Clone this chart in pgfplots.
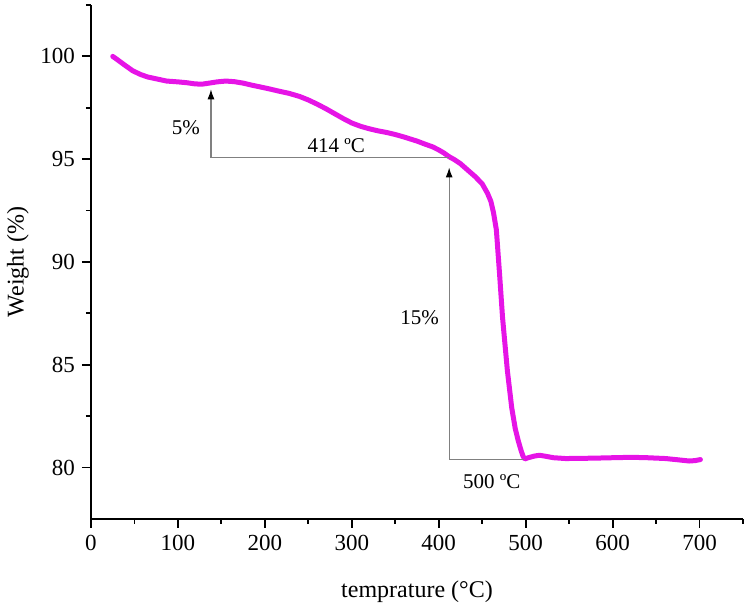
\documentclass[border=0pt]{standalone}
\usepackage{fontspec}
\setmainfont{Liberation Serif}
\usepackage{pgfplots}
\pgfplotsset{compat=1.18}
\usetikzlibrary{arrows.meta}
\definecolor{curve}{RGB}{230,20,230}
\definecolor{ann}{RGB}{128,128,128}
\begin{document}
\begin{tikzpicture}
\begin{axis}[
  scale only axis,
  width=326pt, height=257pt,
  xmin=0, xmax=750, ymin=77.5, ymax=102.5,
  axis x line=bottom, axis y line=left,
  axis line style={-, line width=0.9pt, black},
  xtick={0,100,...,700}, minor xtick={50,150,...,750},
  ytick={80,85,...,100}, minor ytick={82.5,87.5,92.5,97.5,102.5},
  tick align=outside,
  major tick length=4.5pt, minor tick length=2.5pt,
  every tick/.style={black, line width=0.9pt},
  tick label style={font=\fontsize{11.5}{13}\selectfont},
  /pgf/number format/assume math mode=true,
  xlabel={temprature (°C)}, ylabel={Weight (\%)},
  label style={font=\fontsize{12}{14}\selectfont},
  xlabel style={at={(axis description cs:0.5,-0.142)}, anchor=center},
  ylabel style={at={(axis description cs:-0.112,0.5)}, anchor=center},
  clip=false,
]
\addplot[curve, line width=2.5pt, line join=round, line cap=round] coordinates {
(25,100.0) (30,99.85) (38,99.6) (48,99.3) (57,99.12) (65,99.0) (76,98.9) (87,98.8)
(100,98.76) (110,98.72) (120,98.66) (128,98.65) (136,98.7) (145,98.76) (155,98.8)
(165,98.77) (175,98.7) (185,98.6) (194,98.52) (205,98.42) (215,98.32) (228,98.2)
(240,98.05) (250,97.88) (260,97.68) (270,97.46) (280,97.22) (290,96.98) (300,96.76)
(310,96.6) (320,96.48) (330,96.38) (340,96.3) (350,96.2) (360,96.08) (375,95.88)
(385,95.72) (393,95.6) (400,95.45) (406,95.3) (412,95.12) (418,94.98) (425,94.78)
(432,94.52) (442,94.15) (450,93.8) (456,93.35) (460,92.95) (463,92.4) (466.3,91.56)
(470,89.4) (473.4,87.3) (479,84.7) (484,82.9) (488,81.9) (491.5,81.3) (494.6,80.85)
(497,80.55) (499,80.42)
(503,80.48) (510,80.56) (516,80.6) (523,80.55) (532,80.48) (546,80.44) (565,80.45)
(580,80.46) (600,80.48) (622,80.5) (640,80.48) (661,80.44) (675,80.38) (688,80.32)
(695,80.34) (701,80.39)
};
% annotation lines
\addplot[ann, line width=0.6pt] coordinates {(138,95.07) (412,95.07)};
\addplot[ann, line width=0.6pt, -{Latex[black,length=5pt,width=3.5pt]}] coordinates {(138,95.07) (138,98.4)};
\addplot[ann, line width=0.6pt] coordinates {(412,80.4) (498,80.4)};
\addplot[ann, line width=0.6pt, -{Latex[black,length=5pt,width=3.5pt]}] coordinates {(412,80.4) (412,94.6)};
\node[anchor=east, font=\fontsize{10.5}{12}\selectfont, inner sep=1pt] at (axis cs:128,96.55) {5\%};
\node[anchor=base, font=\fontsize{10.5}{12}\selectfont, inner sep=0pt] at (axis cs:282,95.34) {414 ºC};
\node[anchor=east, font=\fontsize{10.5}{12}\selectfont, inner sep=1pt] at (axis cs:403,87.3) {15\%};
\node[anchor=base, font=\fontsize{10.5}{12}\selectfont, inner sep=0pt] at (axis cs:461,78.98) {500 ºC};
\end{axis}
\path[use as bounding box] ([xshift=-45.5pt,yshift=-47pt]current axis.south west) rectangle ([xshift=3pt,yshift=2.5pt]current axis.north east);
\end{tikzpicture}
\end{document}
